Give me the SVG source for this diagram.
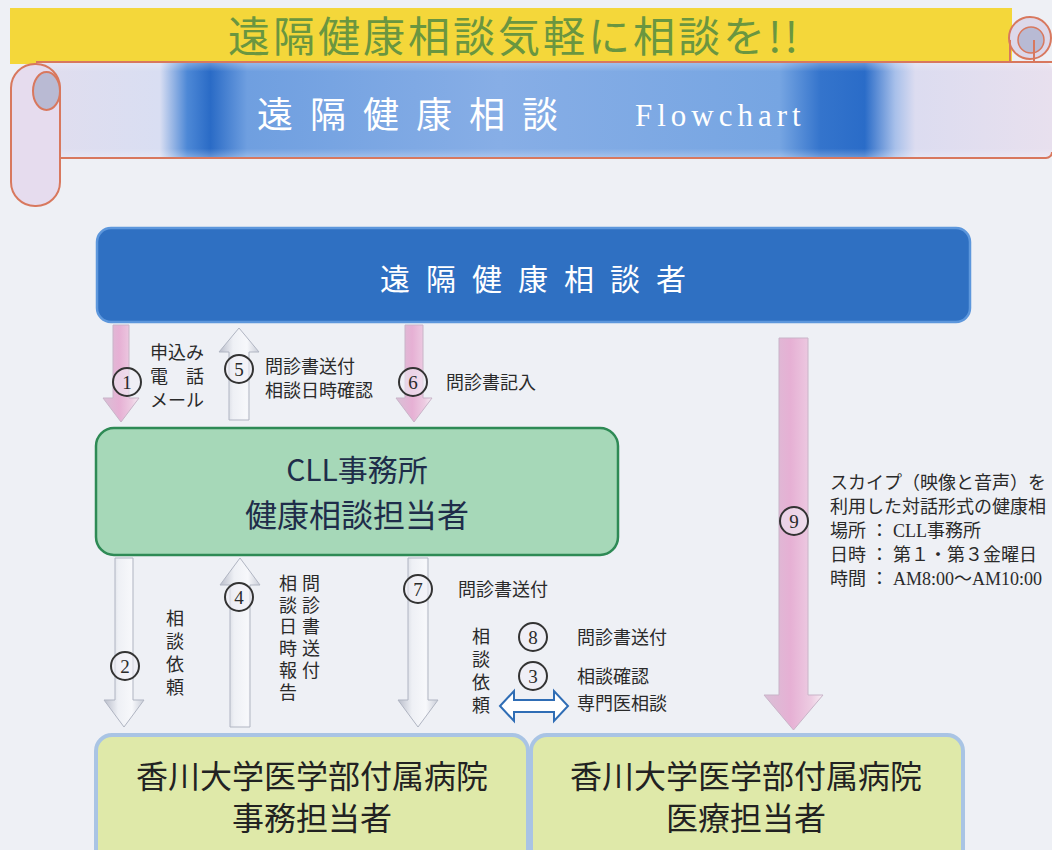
<svg xmlns="http://www.w3.org/2000/svg" width="1052" height="850" viewBox="0 0 1052 850">
<style>
.lbl{font-family:"Noto Sans CJK JP",sans-serif;font-size:18px;fill:#2a2a2a}
.lbs{font-family:"Liberation Serif","Noto Sans CJK JP",serif;font-size:18px;fill:#2a2a2a}
.vt{font-family:"Noto Sans CJK JP",sans-serif;font-size:18px;fill:#2a2a2a;writing-mode:vertical-rl}
.num{font-family:"Liberation Serif",serif;font-size:19px;fill:#2a2a2a;text-anchor:middle}
.circ{fill:#f1eff5;fill-opacity:0.55;stroke:#333;stroke-width:2}
.node{font-family:"Noto Sans CJK JP",sans-serif;text-anchor:middle}
.pink{fill:url(#gPink);stroke:#c9b4c8;stroke-width:1}
.grey{fill:url(#gGrey);stroke:#b0b5c2;stroke-width:1}
.scroll{stroke:#d8785e;stroke-width:2}
</style>
<defs>
<linearGradient id="gPink" x1="0" y1="0" x2="1" y2="0">
<stop offset="0" stop-color="#d9c0d6"/><stop offset="0.45" stop-color="#e6b0d4"/><stop offset="0.8" stop-color="#edcce2"/><stop offset="1" stop-color="#f6eef4"/>
</linearGradient>
<linearGradient id="gGrey" x1="0" y1="0" x2="1" y2="0">
<stop offset="0" stop-color="#b9bdca"/><stop offset="0.35" stop-color="#eef0f5"/><stop offset="0.7" stop-color="#f7f8fb"/><stop offset="1" stop-color="#c9cdd8"/>
</linearGradient>
<linearGradient id="gBanner" x1="0" y1="0" x2="1052" y2="0" gradientUnits="userSpaceOnUse">
<stop offset="0" stop-color="#e3dded"/><stop offset="0.152" stop-color="#d9def2"/><stop offset="0.178" stop-color="#4d88d6"/><stop offset="0.2" stop-color="#2a6bc6"/><stop offset="0.235" stop-color="#6f9fe0"/><stop offset="0.475" stop-color="#87aee6"/><stop offset="0.741" stop-color="#76a5e2"/><stop offset="0.78" stop-color="#3474cc"/><stop offset="0.822" stop-color="#2a6cc8"/><stop offset="0.851" stop-color="#a8c0ea"/><stop offset="0.87" stop-color="#dcdcf0"/><stop offset="1" stop-color="#e8e0ee"/>
</linearGradient>
<linearGradient id="gBannerV" x1="0" y1="0" x2="0" y2="1">
<stop offset="0" stop-color="#ffffff" stop-opacity="0.3"/><stop offset="0.1" stop-color="#ffffff" stop-opacity="0"/><stop offset="0.9" stop-color="#ffffff" stop-opacity="0"/><stop offset="1" stop-color="#ffffff" stop-opacity="0.3"/>
</linearGradient>
</defs>
<rect x="0" y="0" width="1052" height="850" fill="#eef0f5"/>

<g id="banner">
<rect x="10" y="8" width="1002" height="56" fill="#f4d73a"/>
<text x="228" y="52" font-family="'Noto Sans CJK JP',sans-serif" font-size="42" letter-spacing="3" fill="#6a9640">遠隔健康相談気軽に相談を!!</text>
<path d="M36 62 H1044 A8 8 0 0 1 1052 70 V150 A8 8 0 0 1 1044 158 H36 Z" fill="url(#gBanner)"/>
<rect x="36" y="62" width="1016" height="96" fill="url(#gBannerV)"/>
<path class="scroll" fill="none" d="M36 62 H1052 M60 158 H1046 A6 6 0 0 0 1052 152"/>
<rect x="11" y="64" width="49" height="142" rx="24" fill="#e6dcee" class="scroll"/>
<ellipse cx="46.5" cy="91" rx="13.5" ry="19" fill="#b9bad3" class="scroll"/>
<circle cx="1030" cy="38" r="21" fill="#ddd8ea" class="scroll"/>
<circle cx="1031" cy="40" r="13" fill="#b8bad4" stroke="#d8785e" stroke-width="1.5"/>
<path d="M1010 40 V62 M1034 40 V62" class="scroll" fill="none"/>
<text x="257" y="128" font-family="'Noto Sans CJK JP',sans-serif" font-size="36" letter-spacing="17" fill="#ffffff">遠隔健康相談</text>
<text x="635" y="126" font-family="'Liberation Serif',serif" font-size="31" letter-spacing="5" fill="#ffffff">Flowchart</text>
</g>

<g id="connectors">
<polygon class="pink" points="113,325 129,325 129,398 139,398 121,422 103,398 113,398"/>
<polygon class="grey" points="229,420 249,420 249,352 259,352 239,328 219,352 229,352"/>
<polygon class="pink" points="405,325 423,325 423,398 432,398 414,422 396,398 405,398"/>
<polygon class="pink" points="779,338 808,338 808,695 823,695 793.5,730 764,695 779,695"/>
<polygon class="grey" points="115,558 133,558 133,700 144,700 124,727 104,700 115,700"/>
<polygon class="grey" points="230,727 250,727 250,585 260,585 240,558 220,585 230,585"/>
<polygon class="grey" points="408,558 428,558 428,700 438,700 418,727 398,700 408,700"/>
<polygon points="500,706 514,691 514,700 554,700 554,691 568,706 554,721 554,712 514,712 514,721" fill="#ffffff" stroke="#2f6db5" stroke-width="2"/>

<circle class="circ" cx="127" cy="382" r="14"/><text class="num" x="127" y="389">1</text>
<circle class="circ" cx="239" cy="369" r="14"/><text class="num" x="239" y="376">5</text>
<circle class="circ" cx="413" cy="382" r="14"/><text class="num" x="413" y="389">6</text>
<circle class="circ" cx="125" cy="666" r="14"/><text class="num" x="125" y="673">2</text>
<circle class="circ" cx="239" cy="597" r="14"/><text class="num" x="239" y="604">4</text>
<circle class="circ" cx="418" cy="589" r="14"/><text class="num" x="418" y="596">7</text>
<circle class="circ" cx="533" cy="637" r="14"/><text class="num" x="533" y="644">8</text>
<circle class="circ" cx="533" cy="676" r="14"/><text class="num" x="533" y="683">3</text>
<circle class="circ" cx="794" cy="521" r="14"/><text class="num" x="794" y="528">9</text>

<text class="lbl" x="150" y="359">申込み</text>
<text class="lbl" x="150" y="383">電　話</text>
<text class="lbl" x="150" y="407">メール</text>
<text class="lbl" x="265" y="373" font-size="17.5">問診書送付</text>
<text class="lbl" x="265" y="397" font-size="17.5">相談日時確認</text>
<text class="lbl" x="446" y="389">問診書記入</text>

<text class="vt" x="175" y="609" letter-spacing="5">相談依頼</text>
<text class="vt" x="288" y="574" letter-spacing="3.8">相談日時報告</text>
<text class="vt" x="311" y="574" letter-spacing="3.8">問診書送付</text>
<text class="lbl" x="458" y="596">問診書送付</text>
<text class="vt" x="481" y="627" letter-spacing="5">相談依頼</text>
<text class="lbl" x="577" y="644">問診書送付</text>
<text class="lbl" x="577" y="683">相談確認</text>
<text class="lbl" x="577" y="710">専門医相談</text>

<text class="lbs" x="830" y="489">スカイプ（映像と音声）を</text>
<text class="lbs" x="830" y="513">利用した対話形式の健康相</text>
<text class="lbs" x="830" y="537">場所 ： CLL事務所</text>
<text class="lbs" x="830" y="561">日時 ： 第１・第３金曜日</text>
<text class="lbs" x="830" y="585">時間 ： AM8:00〜AM10:00</text>
</g>

<g id="node-consultee">
<rect x="97" y="228" width="873" height="94" rx="14" fill="#2f70c2" stroke="#5d97dc" stroke-width="2.5"/>
<text class="node" x="541" y="290" font-size="30" letter-spacing="16" fill="#ffffff">遠隔健康相談者</text>
</g>

<g id="node-cll">
<rect x="96" y="428" width="522" height="127" rx="18" fill="#a6d8b8" stroke="#2e8a55" stroke-width="2.5"/>
<text class="node" x="357" y="481" font-size="30" fill="#1f2d4a" font-family="'Liberation Serif','Noto Sans CJK JP',serif">CLL事務所</text>
<text class="node" x="357" y="527" font-size="32" fill="#1f2d4a">健康相談担当者</text>
</g>

<g id="node-hospital-office">
<rect x="96" y="735" width="432" height="130" rx="16" fill="#dfe9a9" stroke="#a9c4e4" stroke-width="4"/>
<text class="node" x="312" y="788" font-size="32" fill="#222222">香川大学医学部付属病院</text>
<text class="node" x="312" y="830" font-size="32" fill="#222222">事務担当者</text>
</g>

<g id="node-hospital-medical">
<rect x="531" y="735" width="432" height="130" rx="16" fill="#dfe9a9" stroke="#a9c4e4" stroke-width="4"/>
<text class="node" x="746" y="788" font-size="32" fill="#222222">香川大学医学部付属病院</text>
<text class="node" x="746" y="830" font-size="32" fill="#222222">医療担当者</text>
</g>
</svg>
